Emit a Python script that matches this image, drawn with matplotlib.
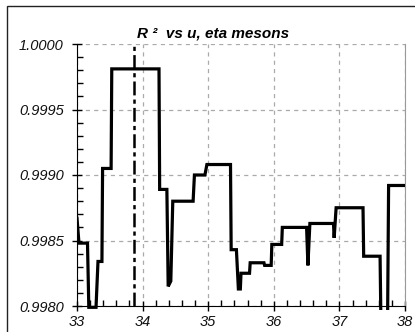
"""
R^2 vs u for eta mesons, step-like scan
"""

import numpy as np
import matplotlib
matplotlib.use("Agg")
import matplotlib.pyplot as plt
from matplotlib.ticker import MultipleLocator, FormatStrFormatter
from matplotlib.patches import Rectangle

# values
u = [33.00, 33.03, 33.16, 33.18, 33.29, 33.32, 33.38, 33.39, 33.52, 33.53,
     34.25, 34.26, 34.37, 34.39, 34.43, 34.46, 34.77, 34.79, 34.95, 34.98,
     35.34, 35.35, 35.43, 35.46, 35.49, 35.50, 35.63, 35.64, 35.85, 35.86,
     35.96, 35.97, 36.12, 36.13, 36.50, 36.52, 36.55, 36.91, 36.92, 36.95,
     37.36, 37.37, 37.62, 37.64, 37.73, 37.75, 38.00]
r2 = [0.99867, 0.99848, 0.99848, 0.99799, 0.99799, 0.99834, 0.99834, 0.99905, 0.99905, 0.99981,
      0.99981, 0.99889, 0.99889, 0.99815, 0.99819, 0.99880, 0.99880, 0.99900, 0.99900, 0.99908,
      0.99908, 0.99843, 0.99843, 0.99813, 0.99813, 0.99825, 0.99825, 0.99833, 0.99833, 0.99831,
      0.99831, 0.99847, 0.99847, 0.99860, 0.99860, 0.99831, 0.99863, 0.99863, 0.99852, 0.99875,
      0.99875, 0.99838, 0.99838, 0.99760, 0.99760, 0.99892, 0.99892]
u_best = 33.87

plt.rcParams['font.family'] = ['Liberation Sans', 'DejaVu Sans']
plt.rcParams['lines.scale_dashes'] = False

fig = plt.figure(figsize=(4.15, 3.32), dpi=100)
ax = fig.add_axes([77/415, 1-306/332, 328/415, 262/332])

line, = ax.plot(u, r2, color='black', lw=2.3, solid_joinstyle='miter', zorder=3)
# plot area reaches a few pixels below the x axis
clip = Rectangle((0, -0.016), 1, 1.03, transform=ax.transAxes, visible=False)
ax.add_patch(clip)
line.set_clip_path(clip)
ax.axvline(u_best, color='black', lw=1.8, linestyle=(0, (10, 3, 3, 3)))

ax.set_xlim(33, 38)
ax.set_ylim(0.998, 1.0)
ax.xaxis.set_major_locator(MultipleLocator(1))
ax.xaxis.set_minor_locator(MultipleLocator(0.2))
ax.yaxis.set_major_locator(MultipleLocator(0.0005))
ax.yaxis.set_minor_locator(MultipleLocator(0.0001))
ax.yaxis.set_major_formatter(FormatStrFormatter('%.4f'))
ax.tick_params(which='major', direction='inout', length=7, width=1, labelsize=10.5)
ax.tick_params(which='minor', direction='in', length=4, width=1)
ax.tick_params(axis='y', pad=6)
ax.tick_params(axis='x', pad=3)
for lab in ax.get_xticklabels() + ax.get_yticklabels():
    lab.set_fontstyle('italic')
    lab.set_color('#111111')

ax.grid(True, which='major', color='#aaaaaa', lw=0.9, linestyle=(0, (3, 3)))
ax.spines['top'].set_visible(False)
ax.spines['right'].set_color('#999999')
ax.spines['left'].set_color('black')
ax.spines['bottom'].set_color('black')

fig.text(213/415, 1-38/332, 'R \u00b2  vs u, eta mesons', ha='center', va='baseline',
         fontsize=11, fontweight='bold', fontstyle='italic')

# chart area border (runs off the right and bottom edge)
fig.patches.append(Rectangle((7/415, -0.1), 1.2, 1.1-6/332, transform=fig.transFigure,
                             fill=False, edgecolor='#222222', lw=1))

fig.savefig('out.png', dpi=100)
